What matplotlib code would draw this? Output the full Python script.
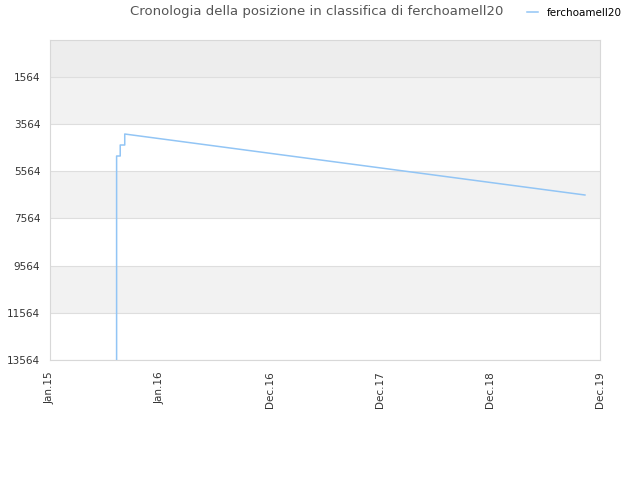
import matplotlib
matplotlib.use("Agg")
import matplotlib.pyplot as plt
import matplotlib.dates as mdates
from datetime import datetime

# Data
dates = ["2015-08-10", "2015-08-10", "2015-08-22", "2015-08-22", "2015-09-06", "2015-09-06",
         "2017-02-02", "2018-07-18", "2019-11-11"]
ranks = [13564, 4917, 4917, 4451, 4451, 3985, 4858, 5756, 6570]

tick_dates = ["2015-01-01", "2016-01-01", "2016-12-31", "2017-12-31", "2018-12-31", "2019-12-31"]
tick_labels = ["Jan.15", "Jan.16", "Dec.16", "Dec.17", "Dec.18", "Dec.19"]
y_ticks = [1564, 3564, 5564, 7564, 9564, 11564, 13564]
series_name = "ferchoamell20"
title = "Cronologia della posizione in classifica di ferchoamell20"

line_color = "#92c5f5"

fig = plt.figure(figsize=(6.4, 4.8), dpi=100)
ax = fig.add_axes([50/640, 120/480, 550/640, 320/480])

x = [mdates.date2num(datetime.strptime(d, "%Y-%m-%d")) for d in dates]
xt = [mdates.date2num(datetime.strptime(d, "%Y-%m-%d")) for d in tick_dates]

# background bands
ax.axhspan(0, y_ticks[0], color="#ededed", zorder=0, lw=0)
for i in range(len(y_ticks) - 1):
    col = "#f2f2f2" if i % 2 == 0 else "#ffffff"
    ax.axhspan(y_ticks[i], y_ticks[i+1], color=col, zorder=0, lw=0)
for yt in y_ticks:
    ax.axhline(yt, color="#dedede", lw=0.8, zorder=1)

ax.plot(x, ranks, color=line_color, lw=1.1, zorder=3, label=series_name)

ax.set_xlim(xt[0], xt[-1])
ax.set_ylim(13564, 0)
ax.set_yticks(y_ticks)
ax.set_yticklabels([str(v) for v in y_ticks], fontsize=7.5, color="#333333")
ax.set_xticks(xt)
ax.set_xticklabels(tick_labels, rotation=90, fontsize=7.5, color="#333333")
ax.tick_params(axis="both", length=0)
ax.tick_params(axis="x", pad=8)
ax.tick_params(axis="y", pad=7)
for s in ax.spines.values():
    s.set_color("#d8d8d8")
    s.set_linewidth(0.8)

fig.text(317/640, 1 - 12/480, title, ha="center", va="center", fontsize=9.5, color="#555555")
fig.legend(loc="center left", bbox_to_anchor=(522/640, 1 - 13/480), frameon=False,
           fontsize=7.5, handlelength=1.0, handletextpad=0.9, borderpad=0)

fig.savefig("out.png", dpi=100, facecolor="white")
